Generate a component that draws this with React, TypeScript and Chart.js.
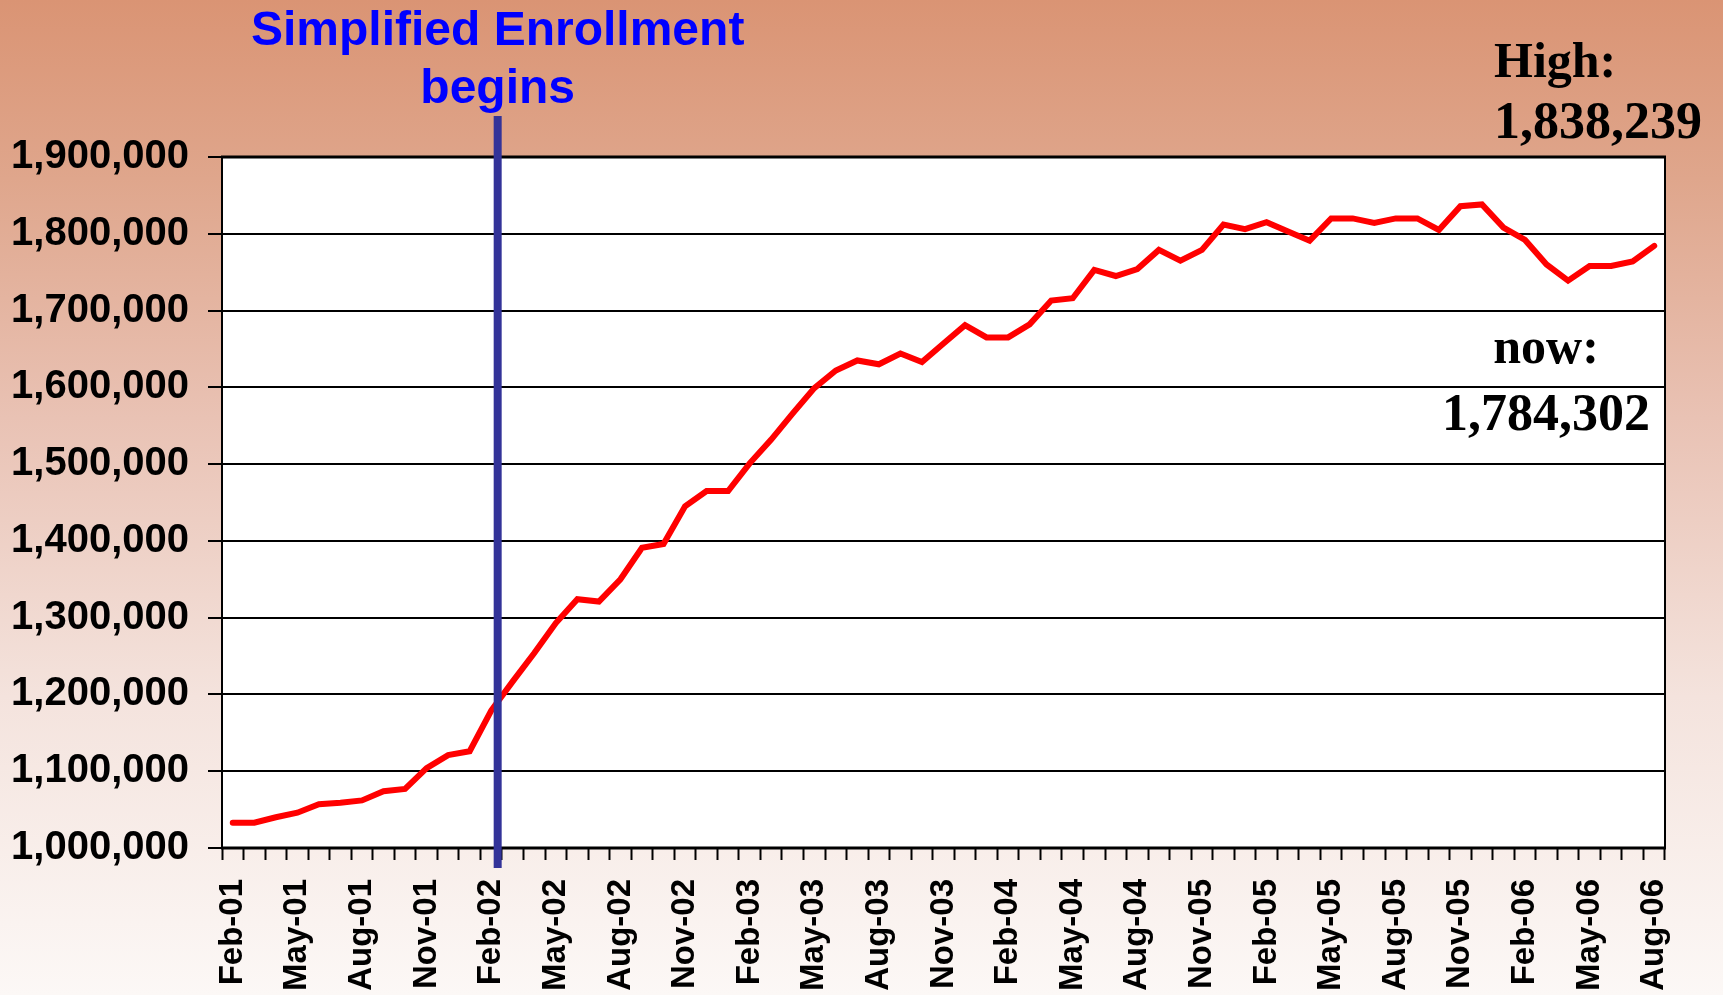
import React, { useEffect, useRef } from 'react';
import { Chart, registerables } from 'chart.js';

Chart.register(...registerables);

const months = [
  'Feb-01', 'Mar-01', 'Apr-01', 'May-01', 'Jun-01', 'Jul-01', 'Aug-01', 'Sep-01', 'Oct-01', 'Nov-01', 'Dec-01',
  'Jan-02', 'Feb-02', 'Mar-02', 'Apr-02', 'May-02', 'Jun-02', 'Jul-02', 'Aug-02', 'Sep-02', 'Oct-02', 'Nov-02', 'Dec-02',
  'Jan-03', 'Feb-03', 'Mar-03', 'Apr-03', 'May-03', 'Jun-03', 'Jul-03', 'Aug-03', 'Sep-03', 'Oct-03', 'Nov-03', 'Dec-03',
  'Jan-04', 'Feb-04', 'Mar-04', 'Apr-04', 'May-04', 'Jun-04', 'Jul-04', 'Aug-04', 'Sep-04', 'Oct-04', 'Nov-04', 'Dec-04',
  'Jan-05', 'Feb-05', 'Mar-05', 'Apr-05', 'May-05', 'Jun-05', 'Jul-05', 'Aug-05', 'Sep-05', 'Oct-05', 'Nov-05', 'Dec-05',
  'Jan-06', 'Feb-06', 'Mar-06', 'Apr-06', 'May-06', 'Jun-06', 'Jul-06', 'Aug-06',
];

// Tick labels exactly as printed on the original axis (every third month)
const tickLabels = [
  'Feb-01', 'May-01', 'Aug-01', 'Nov-01', 'Feb-02', 'May-02', 'Aug-02', 'Nov-02',
  'Feb-03', 'May-03', 'Aug-03', 'Nov-03', 'Feb-04', 'May-04', 'Aug-04', 'Nov-05',
  'Feb-05', 'May-05', 'Aug-05', 'Nov-05', 'Feb-06', 'May-06', 'Aug-06',
];

const enrollment = [
  1033000, 1033000, 1040000, 1046000, 1057000, 1059000, 1062000, 1074000, 1077000, 1104000, 1121000,
  1126000, 1179000, 1217000, 1254000, 1293000, 1324000, 1321000, 1350000, 1391000, 1396000, 1445000, 1465000,
  1465000, 1501000, 1532000, 1566000, 1599000, 1622000, 1635000, 1630000, 1644000, 1633000, 1657000, 1681000,
  1665000, 1665000, 1682000, 1713000, 1716000, 1753000, 1745000, 1754000, 1779000, 1765000, 1779000, 1812000,
  1806000, 1815000, 1803000, 1791000, 1820000, 1820000, 1814000, 1820000, 1820000, 1805000, 1836000, 1838239,
  1808000, 1792000, 1760000, 1739000, 1758000, 1758000, 1764000, 1784302,
];

const yTicks = { min: 1000000, max: 1900000, step: 100000 };

const titleLines = ['Simplified Enrollment', 'begins'];
const highLines = ['High:', '1,838,239'];
const nowLines = ['now:', '1,784,302'];
const enrollStartIndex = 12.3;

const SANS = "'Liberation Sans', Arial, Helvetica, sans-serif";
const SERIF = "'Liberation Serif', 'Times New Roman', Times, serif";

const fmt = (v: number) => String(Math.round(v)).replace(/\B(?=(\d{3})+(?!\d))/g, ',');

const decorPlugin = {
  id: 'decor',
  beforeDraw(chart: any) {
    const { ctx, width, height, chartArea } = chart;
    ctx.save();
    const g = ctx.createLinearGradient(0, 0, 0, height);
    g.addColorStop(0, '#DA9474');
    g.addColorStop(0.18, '#DFA68C');
    g.addColorStop(0.42, '#E9C2B4');
    g.addColorStop(0.7, '#F4E3DD');
    g.addColorStop(1, '#FCF8F6');
    ctx.fillStyle = g;
    ctx.fillRect(0, 0, width, height);
    ctx.fillStyle = '#FFFFFF';
    ctx.fillRect(chartArea.left, chartArea.top, chartArea.right - chartArea.left, chartArea.bottom - chartArea.top);
    ctx.restore();
  },
  afterDraw(chart: any) {
    const { ctx, chartArea } = chart;
    const xs = chart.scales.x;
    ctx.save();
    // plot border
    ctx.strokeStyle = '#000';
    ctx.lineWidth = 2;
    ctx.strokeRect(chartArea.left, chartArea.top, chartArea.right - chartArea.left, chartArea.bottom - chartArea.top);
    ctx.lineWidth = 3;
    ctx.beginPath();
    ctx.moveTo(chartArea.left - 1, chartArea.top);
    ctx.lineTo(chartArea.right + 1, chartArea.top);
    ctx.moveTo(chartArea.left - 1, chartArea.bottom);
    ctx.lineTo(chartArea.right + 1, chartArea.bottom);
    ctx.stroke();

    // enrollment start marker
    const bx = xs.getPixelForValue(enrollStartIndex);
    ctx.strokeStyle = '#333399';
    ctx.lineWidth = 8;
    ctx.beginPath();
    ctx.moveTo(bx, chartArea.top - 41);
    ctx.lineTo(bx, chartArea.bottom + 20);
    ctx.stroke();

    // title
    ctx.fillStyle = '#0000FF';
    ctx.font = `bold 48px ${SANS}`;
    ctx.textAlign = 'center';
    ctx.textBaseline = 'alphabetic';
    ctx.fillText(titleLines[0], bx, 45);
    ctx.fillText(titleLines[1], bx, 103);

    // high / now annotations
    ctx.fillStyle = '#000';
    ctx.font = `bold 50px ${SERIF}`;
    ctx.textAlign = 'left';
    ctx.fillText(highLines[0], 1494, 77);
    ctx.font = `bold 52px ${SERIF}`;
    ctx.fillText(highLines[1], 1494, 138);
    ctx.textAlign = 'center';
    ctx.font = `bold 50px ${SERIF}`;
    ctx.fillText(nowLines[0], 1546, 363);
    ctx.font = `bold 52px ${SERIF}`;
    ctx.fillText(nowLines[1], 1546, 430);
    ctx.restore();
  },
};

export default function App() {
  const ref = useRef<HTMLCanvasElement>(null);
  useEffect(() => {
    document.body.style.margin = '0';
    const canvas = ref.current;
    if (!canvas) return;
    const chart = new Chart(canvas, {
      type: 'line',
      data: {
        labels: months,
        datasets: [
          {
            data: enrollment,
            borderColor: '#FF0000',
            borderWidth: 6,
            borderJoinStyle: 'miter',
            borderCapStyle: 'round',
            pointRadius: 0,
            fill: false,
            tension: 0,
          },
        ],
      },
      options: {
        animation: false,
        responsive: false,
        devicePixelRatio: 1,
        layout: { padding: { top: 157, right: 58, bottom: 0, left: 0 } },
        plugins: {
          legend: { display: false },
          tooltip: { enabled: false },
          title: { display: false },
        },
        scales: {
          x: {
            type: 'category',
            offset: true,
            grid: {
              display: true,
              drawOnChartArea: false,
              drawTicks: true,
              tickLength: 12,
              tickWidth: 2,
              tickColor: '#000',
              color: '#000',
              offset: true,
            },
            border: { display: false },
            ticks: {
              autoSkip: false,
              minRotation: 90,
              maxRotation: 90,
              padding: 19,
              color: '#000',
              font: { family: SANS, size: 33, weight: 'bold' },
              callback: (_v: any, i: number) => (i % 3 === 0 ? tickLabels[i / 3] : ''),
            },
            afterFit: (s: any) => {
              s.height = 147;
            },
          },
          y: {
            min: yTicks.min,
            max: yTicks.max,
            grid: {
              color: '#000',
              lineWidth: 2,
              drawTicks: true,
              tickLength: 14,
              tickWidth: 2,
              tickColor: '#000',
            },
            border: { display: false },
            ticks: {
              stepSize: yTicks.step,
              padding: 19,
              color: '#000',
              font: { family: SANS, size: 40, weight: 'bold' },
              callback: (v: any) => fmt(Number(v)),
            },
            afterFit: (s: any) => {
              s.width = 222;
            },
          },
        },
      } as any,
      plugins: [decorPlugin],
    });
    return () => chart.destroy();
  }, []);
  return (
    <div style={{ position: 'fixed', left: 0, top: 0, width: 1723, height: 995 }}>
      <canvas ref={ref} width={1723} height={995} style={{ display: 'block' }} />
    </div>
  );
}
